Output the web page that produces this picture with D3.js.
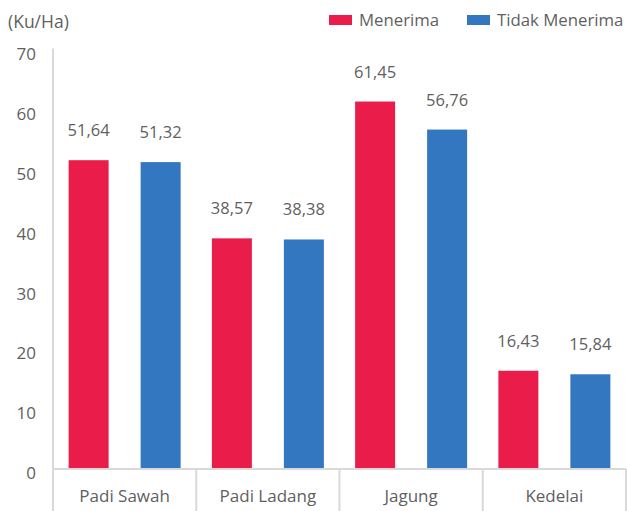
<!DOCTYPE html>
<html>
<head>
<meta charset="utf-8">
<script src="https://cdn.jsdelivr.net/npm/d3@7"></script>
<style>
  body { margin: 0; background: #fff; }
  text { font-family: "Open Sans", "Liberation Sans", sans-serif; }
</style>
</head>
<body>
<div id="chart"></div>
<script>
const categories = ["Padi Sawah", "Padi Ladang", "Jagung", "Kedelai"];
const seriesNames = ["Menerima", "Tidak Menerima"];
const menerima = [51.64, 38.57, 61.45, 16.43];
const tidakMenerima = [51.32, 38.38, 56.76, 15.84];
const yTicks = [0, 10, 20, 30, 40, 50, 60, 70];

const config = {
    "text-color": "#5f5f5f",
    "axis-color": "#d9d9d9",
    "red": "#EA1C4A",
    "blue": "#3277BF"
};

const width = 627, height = 511;
const margin = {top: 50.4, right: 1, bottom: 42, left: 53};

const svg = d3.select("#chart").append("svg")
    .attr("width", width)
    .attr("height", height);

const x = d3.scaleBand()
    .domain(categories)
    .range([margin.left, width - margin.right])
    .padding(0);

const y = d3.scaleLinear()
    .domain([0, 70])
    .range([height - margin.bottom, margin.top]);

const colors = [config.red, config.blue];
const rows = categories.map((c, i) => ({cat: c, values: [menerima[i], tidakMenerima[i]]}));

// bars
const barW = 40, off = 36;
const groups = svg.append("g").selectAll("g")
    .data(rows).enter().append("g");

groups.selectAll("rect")
    .data(d => d.values.map((v, s) => ({cat: d.cat, v: v, s: s})))
    .enter().append("rect")
    .attr("x", d => x(d.cat) + x.bandwidth() / 2 + (d.s === 0 ? -off : off) - barW / 2)
    .attr("y", d => y(d.v))
    .attr("width", barW)
    .attr("height", d => y(0) - y(d.v))
    .attr("fill", d => colors[d.s]);

groups.selectAll("text.val")
    .data(d => d.values.map((v, s) => ({cat: d.cat, v: v, s: s})))
    .enter().append("text")
    .attr("class", "val")
    .attr("x", d => x(d.cat) + x.bandwidth() / 2 + (d.s === 0 ? -off : off))
    .attr("y", d => y(d.v) - 24)
    .attr("text-anchor", "middle")
    .attr("fill", config["text-color"])
    .style("font-size", "16.5px")
    .text(d => d.v.toFixed(2).replace(".", ","));

// y axis line
svg.append("line")
    .attr("x1", margin.left).attr("x2", margin.left)
    .attr("y1", y(70) - 2).attr("y2", y(0))
    .attr("stroke", config["axis-color"]).attr("stroke-width", 2);

// baseline
svg.append("line")
    .attr("x1", margin.left).attr("x2", width - margin.right)
    .attr("y1", y(0)).attr("y2", y(0))
    .attr("stroke", config["axis-color"]).attr("stroke-width", 2);

// category separators
const seps = categories.map(c => x(c)).concat([x(categories[categories.length - 1]) + x.bandwidth()]);
svg.append("g").selectAll("line")
    .data(seps).enter().append("line")
    .attr("x1", d => d).attr("x2", d => d)
    .attr("y1", y(0)).attr("y2", height)
    .attr("stroke", config["axis-color"]).attr("stroke-width", 2);

// category labels
svg.append("g").selectAll("text")
    .data(categories).enter().append("text")
    .attr("x", d => x(d) + x.bandwidth() / 2)
    .attr("y", 502)
    .attr("text-anchor", "middle")
    .attr("fill", config["text-color"])
    .style("font-size", "17px")
    .text(d => d);

// y tick labels
svg.append("g").selectAll("text")
    .data(yTicks).enter().append("text")
    .attr("x", 36)
    .attr("y", d => y(d) + 10)
    .attr("text-anchor", "end")
    .attr("fill", config["text-color"])
    .style("font-size", "17px")
    .text(d => d);

// unit label
svg.append("text")
    .attr("x", 8).attr("y", 28)
    .attr("fill", config["text-color"])
    .style("font-size", "17.5px")
    .text("(Ku/Ha)");

// legend
const legendX = [329, 467];
const legend = svg.append("g").selectAll("g")
    .data(seriesNames).enter().append("g")
    .attr("transform", (d, i) => `translate(${legendX[i]}, 0)`);

legend.append("rect")
    .attr("x", 0).attr("y", 15)
    .attr("width", 23).attr("height", 10)
    .attr("fill", (d, i) => colors[i]);

legend.append("text")
    .attr("x", 30).attr("y", 26)
    .attr("fill", config["text-color"])
    .style("font-size", "16.8px")
    .text(d => d);
</script>
</body>
</html>
